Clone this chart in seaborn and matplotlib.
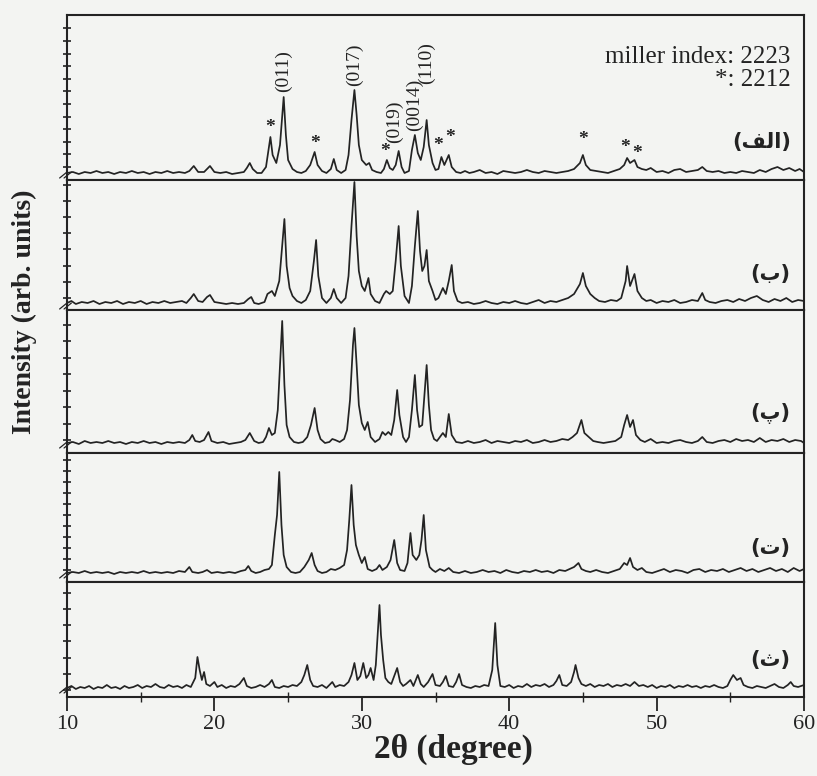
import matplotlib
matplotlib.use('Agg')
import matplotlib.pyplot as plt
import seaborn as sns
import pandas as pd
import numpy as np

alef = [(10.0, 2), (10.4, 3), (10.8, 1), (11.2, 3), (11.6, 2), (12.0, 4), (12.4, 2), (12.8, 3), (13.2, 1), (13.6, 3),
        (14.0, 2), (14.4, 4), (14.8, 2), (15.2, 3), (15.6, 1), (16.0, 3), (16.4, 2), (16.8, 4), (17.2, 2), (17.6, 3),
        (18.0, 2), (18.3, 4), (18.6, 9), (18.9, 3), (19.3, 3), (19.7, 9), (20.0, 3), (20.4, 2), (20.8, 3), (21.2, 1),
        (21.6, 2), (22.0, 3), (22.2, 7), (22.4, 12), (22.6, 6), (22.9, 2), (23.2, 2), (23.5, 8), (23.7, 28), (23.8, 38),
        (23.95, 20), (24.2, 12), (24.45, 30), (24.7, 78), (24.85, 40), (25.0, 15), (25.3, 6), (25.6, 3), (25.9, 2),
        (26.2, 4), (26.5, 10), (26.8, 23), (27.0, 10), (27.3, 4), (27.6, 2), (27.9, 6), (28.1, 16), (28.3, 5), (28.6, 2),
        (28.9, 5), (29.1, 20), (29.3, 55), (29.5, 85), (29.65, 60), (29.8, 30), (30.0, 15), (30.3, 10), (30.5, 12),
        (30.7, 5), (31.0, 3), (31.3, 2), (31.5, 6), (31.7, 15), (31.9, 7), (32.1, 5), (32.3, 10), (32.5, 24), (32.7, 8),
        (32.9, 2), (33.2, 4), (33.4, 25), (33.6, 40), (33.8, 22), (34.0, 15), (34.2, 28), (34.4, 55), (34.55, 30),
        (34.8, 12), (35.0, 5), (35.2, 6), (35.4, 18), (35.6, 10), (35.9, 20), (36.1, 8), (36.4, 3), (36.7, 2), (37.0, 4),
        (37.3, 2), (37.6, 3), (38.0, 5), (38.4, 2), (38.8, 3), (39.2, 1), (39.6, 4), (40.0, 3), (40.4, 2), (40.8, 3),
        (41.2, 5), (41.6, 3), (42.0, 2), (42.4, 4), (42.8, 3), (43.2, 2), (43.6, 3), (44.0, 4), (44.4, 6), (44.8, 12),
        (45.0, 20), (45.2, 10), (45.5, 5), (45.9, 4), (46.3, 3), (46.7, 2), (47.1, 4), (47.5, 6), (47.8, 10), (48.0, 17),
        (48.2, 12), (48.5, 15), (48.7, 8), (49.0, 6), (49.3, 5), (49.6, 7), (50.0, 3), (50.4, 4), (50.8, 2), (51.2, 5),
        (51.6, 6), (52.0, 3), (52.4, 4), (52.8, 5), (53.1, 8), (53.4, 4), (53.8, 3), (54.2, 4), (54.6, 2), (55.0, 3),
        (55.4, 2), (55.8, 4), (56.2, 3), (56.6, 2), (57.0, 5), (57.4, 3), (57.8, 6), (58.2, 8), (58.6, 5), (59.0, 7),
        (59.4, 4), (59.7, 6), (60.0, 3)]

be = [(10.0, 3), (10.3, 5), (10.6, 2), (11.0, 4), (11.4, 3), (11.8, 5), (12.2, 2), (12.6, 4), (13.0, 3), (13.4, 5),
      (13.8, 2), (14.2, 4), (14.6, 3), (15.0, 5), (15.4, 2), (15.8, 4), (16.2, 3), (16.6, 5), (17.0, 3), (17.4, 4),
      (17.8, 5), (18.1, 3), (18.4, 8), (18.6, 12), (18.9, 5), (19.2, 4), (19.5, 9), (19.7, 11), (20.0, 4), (20.4, 3),
      (20.8, 2), (21.2, 3), (21.6, 2), (22.0, 3), (22.3, 7), (22.5, 9), (22.7, 3), (23.0, 2), (23.4, 4), (23.6, 12),
      (23.9, 15), (24.1, 10), (24.4, 25), (24.6, 60), (24.75, 87), (24.9, 40), (25.1, 18), (25.3, 10), (25.6, 5),
      (25.9, 3), (26.2, 6), (26.5, 15), (26.75, 45), (26.9, 66), (27.05, 30), (27.3, 8), (27.6, 3), (27.9, 8), (28.1, 17),
      (28.3, 8), (28.6, 3), (28.9, 8), (29.1, 30), (29.3, 80), (29.5, 124), (29.65, 70), (29.8, 35), (30.0, 20),
      (30.2, 15), (30.45, 28), (30.6, 12), (30.9, 5), (31.2, 3), (31.5, 12), (31.65, 15), (31.9, 12), (32.1, 15),
      (32.3, 45), (32.5, 80), (32.65, 40), (32.9, 10), (33.2, 3), (33.4, 20), (33.6, 60), (33.8, 95), (33.95, 55),
      (34.1, 35), (34.25, 40), (34.4, 56), (34.55, 25), (34.8, 15), (35.0, 6), (35.2, 8), (35.5, 18), (35.7, 12),
      (35.9, 25), (36.1, 41), (36.25, 15), (36.5, 5), (36.8, 3), (37.2, 4), (37.6, 2), (38.0, 3), (38.4, 5), (38.8, 3),
      (39.2, 2), (39.6, 4), (40.0, 3), (40.4, 5), (40.8, 3), (41.2, 2), (41.6, 4), (42.0, 6), (42.4, 3), (42.8, 5),
      (43.2, 4), (43.6, 6), (44.0, 8), (44.4, 12), (44.8, 22), (45.0, 33), (45.2, 20), (45.5, 12), (45.8, 8), (46.1, 5),
      (46.5, 4), (46.9, 6), (47.3, 5), (47.6, 8), (47.9, 25), (48.0, 40), (48.2, 20), (48.5, 32), (48.7, 15), (49.0, 8),
      (49.3, 5), (49.6, 6), (50.0, 3), (50.4, 5), (50.8, 4), (51.2, 6), (51.6, 3), (52.0, 4), (52.4, 6), (52.8, 5),
      (53.1, 13), (53.3, 6), (53.6, 4), (54.0, 3), (54.4, 5), (54.8, 6), (55.2, 4), (55.6, 7), (56.0, 5), (56.4, 8),
      (56.8, 10), (57.2, 6), (57.6, 4), (58.0, 7), (58.4, 5), (58.8, 8), (59.2, 4), (59.6, 6), (60.0, 5)]

pe = [(10.0, 2), (10.4, 3), (10.8, 1), (11.2, 4), (11.6, 2), (12.0, 3), (12.4, 2), (12.8, 4), (13.2, 2), (13.6, 3),
      (14.0, 1), (14.4, 3), (14.8, 2), (15.2, 4), (15.6, 2), (16.0, 3), (16.4, 1), (16.8, 3), (17.2, 2), (17.6, 3),
      (18.0, 2), (18.3, 5), (18.5, 10), (18.7, 4), (19.0, 3), (19.3, 5), (19.6, 13), (19.8, 4), (20.2, 2), (20.6, 3),
      (21.0, 1), (21.4, 2), (21.8, 3), (22.1, 5), (22.4, 12), (22.7, 4), (23.0, 2), (23.3, 3), (23.5, 8), (23.7, 17),
      (23.9, 10), (24.1, 12), (24.3, 35), (24.5, 95), (24.6, 124), (24.75, 60), (24.9, 20), (25.1, 8), (25.4, 3),
      (25.7, 2), (26.0, 3), (26.3, 8), (26.55, 20), (26.8, 37), (27.0, 15), (27.2, 6), (27.5, 2), (27.8, 3), (28.0, 6),
      (28.2, 5), (28.5, 3), (28.8, 6), (29.0, 15), (29.2, 45), (29.4, 100), (29.5, 117), (29.65, 80), (29.8, 40),
      (30.0, 22), (30.2, 15), (30.4, 23), (30.6, 8), (30.9, 3), (31.2, 6), (31.4, 13), (31.6, 10), (31.8, 13), (32.0, 10),
      (32.2, 25), (32.4, 55), (32.55, 30), (32.8, 8), (33.0, 3), (33.2, 8), (33.4, 35), (33.6, 70), (33.75, 35),
      (33.9, 18), (34.1, 20), (34.25, 50), (34.4, 80), (34.55, 40), (34.7, 15), (34.9, 6), (35.1, 4), (35.3, 8),
      (35.5, 12), (35.7, 8), (35.9, 31), (36.1, 10), (36.4, 3), (36.8, 2), (37.2, 4), (37.6, 2), (38.0, 3), (38.4, 5),
      (38.8, 2), (39.2, 4), (39.6, 3), (40.0, 2), (40.4, 4), (40.8, 3), (41.2, 5), (41.6, 2), (42.0, 3), (42.4, 5),
      (42.8, 3), (43.2, 4), (43.6, 6), (44.0, 5), (44.3, 8), (44.6, 12), (44.9, 25), (45.1, 12), (45.4, 8), (45.7, 4),
      (46.0, 3), (46.4, 2), (46.8, 3), (47.2, 4), (47.6, 8), (47.8, 20), (48.0, 30), (48.2, 18), (48.4, 25), (48.6, 10),
      (48.9, 5), (49.2, 3), (49.6, 6), (50.0, 2), (50.4, 3), (50.8, 2), (51.2, 4), (51.6, 5), (52.0, 3), (52.4, 2),
      (52.8, 4), (53.1, 8), (53.4, 3), (53.8, 2), (54.2, 4), (54.6, 5), (55.0, 3), (55.4, 6), (55.8, 4), (56.2, 5),
      (56.6, 3), (57.0, 7), (57.4, 3), (57.8, 5), (58.2, 4), (58.6, 6), (59.0, 3), (59.4, 5), (59.8, 4), (60.0, 2)]

te = [(10.0, 2), (10.4, 3), (10.8, 2), (11.2, 4), (11.6, 2), (12.0, 3), (12.4, 2), (12.8, 3), (13.2, 1), (13.6, 3),
      (14.0, 2), (14.4, 3), (14.8, 2), (15.2, 4), (15.6, 2), (16.0, 3), (16.4, 2), (16.8, 3), (17.2, 2), (17.6, 4),
      (18.0, 3), (18.3, 8), (18.5, 3), (18.9, 2), (19.2, 3), (19.5, 5), (19.8, 2), (20.2, 3), (20.6, 2), (21.0, 3),
      (21.4, 2), (21.8, 4), (22.1, 5), (22.3, 9), (22.5, 4), (22.8, 2), (23.1, 3), (23.4, 5), (23.7, 6), (23.9, 10),
      (24.1, 40), (24.25, 60), (24.4, 103), (24.55, 50), (24.7, 20), (24.9, 8), (25.2, 3), (25.5, 2), (25.8, 3),
      (26.1, 8), (26.4, 15), (26.6, 22), (26.8, 10), (27.0, 4), (27.3, 2), (27.6, 3), (27.9, 6), (28.2, 5), (28.5, 7),
      (28.8, 10), (29.0, 25), (29.15, 55), (29.3, 90), (29.45, 50), (29.6, 30), (29.8, 20), (30.0, 12), (30.2, 18),
      (30.4, 6), (30.7, 4), (31.0, 6), (31.2, 10), (31.4, 5), (31.7, 8), (31.95, 15), (32.2, 35), (32.4, 12), (32.6, 5),
      (32.9, 4), (33.1, 12), (33.3, 42), (33.45, 20), (33.7, 15), (33.9, 20), (34.05, 35), (34.2, 60), (34.35, 25),
      (34.6, 8), (34.8, 5), (35.0, 3), (35.3, 6), (35.6, 4), (35.9, 7), (36.2, 3), (36.6, 2), (37.0, 4), (37.4, 2),
      (37.8, 3), (38.2, 5), (38.6, 3), (39.0, 4), (39.4, 2), (39.8, 5), (40.2, 3), (40.6, 2), (41.0, 4), (41.4, 3),
      (41.8, 5), (42.2, 3), (42.6, 4), (43.0, 2), (43.4, 5), (43.8, 4), (44.1, 6), (44.4, 8), (44.7, 12), (44.9, 6),
      (45.2, 4), (45.5, 3), (45.9, 5), (46.3, 3), (46.7, 2), (47.1, 4), (47.5, 6), (47.8, 12), (48.0, 10), (48.2, 17),
      (48.4, 8), (48.7, 5), (49.0, 7), (49.3, 3), (49.7, 2), (50.1, 4), (50.5, 6), (50.9, 3), (51.3, 5), (51.7, 4),
      (52.1, 2), (52.5, 5), (52.9, 6), (53.3, 3), (53.7, 5), (54.1, 4), (54.5, 6), (54.9, 3), (55.3, 5), (55.7, 7),
      (56.1, 4), (56.5, 6), (56.9, 3), (57.3, 5), (57.7, 7), (58.1, 4), (58.5, 6), (58.9, 3), (59.3, 7), (59.7, 4),
      (60.0, 6)]

se = [(10.0, 2), (10.3, 4), (10.6, 1), (10.9, 3), (11.2, 2), (11.5, 4), (11.8, 1), (12.1, 3), (12.4, 2), (12.7, 5),
      (13.0, 2), (13.3, 3), (13.6, 1), (13.9, 4), (14.2, 2), (14.5, 3), (14.8, 5), (15.1, 2), (15.4, 4), (15.7, 3),
      (16.0, 6), (16.3, 3), (16.6, 2), (16.9, 5), (17.2, 3), (17.5, 4), (17.8, 2), (18.1, 5), (18.4, 3), (18.7, 12),
      (18.85, 33), (19.0, 20), (19.15, 10), (19.3, 18), (19.45, 6), (19.7, 4), (20.0, 8), (20.2, 3), (20.5, 5),
      (20.8, 2), (21.1, 4), (21.4, 3), (21.7, 6), (22.0, 12), (22.2, 4), (22.5, 2), (22.8, 3), (23.1, 5), (23.4, 3),
      (23.7, 6), (23.9, 10), (24.1, 3), (24.4, 2), (24.7, 4), (25.0, 3), (25.3, 5), (25.6, 4), (25.9, 8), (26.1, 15),
      (26.3, 25), (26.5, 10), (26.7, 4), (27.0, 3), (27.3, 5), (27.6, 2), (27.8, 5), (28.0, 8), (28.2, 3), (28.5, 5),
      (28.8, 4), (29.1, 8), (29.3, 15), (29.5, 27), (29.7, 10), (29.9, 14), (30.1, 27), (30.3, 12), (30.45, 15),
      (30.6, 22), (30.8, 10), (30.95, 25), (31.1, 60), (31.2, 85), (31.3, 55), (31.45, 30), (31.6, 12), (31.8, 8),
      (32.0, 6), (32.2, 14), (32.4, 22), (32.6, 8), (32.8, 4), (33.0, 6), (33.3, 10), (33.5, 4), (33.8, 15), (34.0, 6),
      (34.2, 3), (34.5, 8), (34.8, 16), (35.0, 5), (35.3, 4), (35.5, 8), (35.7, 14), (35.9, 4), (36.2, 3), (36.4, 8),
      (36.6, 16), (36.8, 5), (37.1, 3), (37.4, 2), (37.7, 4), (38.0, 3), (38.3, 5), (38.6, 4), (38.85, 20), (39.05, 67),
      (39.2, 25), (39.4, 4), (39.7, 3), (40.0, 5), (40.3, 2), (40.6, 4), (40.9, 3), (41.2, 6), (41.5, 3), (41.8, 5),
      (42.1, 4), (42.4, 6), (42.7, 3), (43.0, 5), (43.2, 9), (43.4, 15), (43.6, 5), (43.9, 4), (44.2, 8), (44.4, 18),
      (44.5, 25), (44.7, 12), (44.9, 6), (45.2, 4), (45.5, 6), (45.8, 3), (46.1, 5), (46.4, 4), (46.7, 6), (47.0, 3),
      (47.3, 5), (47.6, 4), (47.9, 6), (48.2, 4), (48.5, 8), (48.8, 4), (49.1, 5), (49.4, 3), (49.7, 5), (50.0, 2),
      (50.3, 4), (50.6, 3), (50.9, 5), (51.2, 2), (51.5, 4), (51.8, 3), (52.1, 5), (52.4, 3), (52.7, 4), (53.0, 2),
      (53.3, 4), (53.6, 3), (53.9, 5), (54.2, 3), (54.5, 2), (54.8, 4), (55.0, 10), (55.2, 15), (55.45, 10), (55.7, 12),
      (55.9, 5), (56.2, 3), (56.5, 2), (56.8, 4), (57.1, 3), (57.4, 2), (57.7, 4), (58.0, 6), (58.3, 3), (58.6, 2),
      (58.9, 5), (59.1, 8), (59.3, 4), (59.6, 3), (60.0, 5)]

traces = [alef, be, pe, te, se]
panel_labels = ['(\ufed2\ufedf\u0627)', '(\u0628)', '(\u067e)', '(\u062a)', '(\u062b)']

miller_labels = ['(011)', '(017)', '(019)', '(0014)', '(110)']
miller_pos = [(24.7, 104), (29.5, 110), (32.2, 53), (33.6, 70), (34.4, 112)]
star_pos = [(23.8, 47), (26.8, 31), (31.6, 24), (35.2, 29), (36.0, 37), (45.0, 35), (47.85, 27), (48.65, 21)]

xticks = [10, 20, 30, 40, 50, 60]

sns.set_style('ticks')
plt.rcParams['font.family'] = ['Liberation Serif', 'DejaVu Serif']
plt.rcParams['axes.linewidth'] = 1.5

bg = '#f3f4f2'
ink = '#232323'

fig = plt.figure(figsize=(8.17, 7.76), dpi=100, facecolor=bg)
gs = fig.add_gridspec(5, 1, height_ratios=[165, 130, 143, 129, 115], hspace=0,
                      left=67/817, right=804/817, top=1-15/776, bottom=1-697/776)

ylims = [(-5, 160), (-4, 126), (-8, 135), (-7, 122), (-7, 108)]
ytick_steps = [(8, 12.6), (8, 16.2), (5, 16.5), (5, 11.0), (0, 16.2)]
label_y = [33, 32, 31, 27, 30]

for i, tr in enumerate(traces):
    ax = fig.add_subplot(gs[i])
    ax.set_facecolor(bg)
    df = pd.DataFrame(tr, columns=['two_theta', 'intensity'])
    sns.lineplot(data=df, x='two_theta', y='intensity', ax=ax, color=ink, lw=1.25,
                 estimator=None, sort=False)
    ax.set_xlim(10, 60)
    ax.set_ylim(*ylims[i])
    ax.set_xlabel('')
    ax.set_ylabel('')
    start, step = ytick_steps[i]
    ax.set_yticks(np.arange(start, ylims[i][1] - 2, step))
    ax.set_yticklabels([])
    ax.tick_params(axis='y', direction='inout', length=6, width=1.2, color=ink)
    for s in ax.spines.values():
        s.set_color(ink)
    ax.text(59.1, label_y[i], panel_labels[i], ha='right', va='center', fontsize=15,
            fontweight='bold', family=['DejaVu Sans'], color=ink)
    # axis break marks near the baseline
    tr_y = ax.get_yaxis_transform()
    for dx in [-0.006, 0.0]:
        ax.plot([dx - 0.004, dx + 0.006], [-3, 3], transform=tr_y, color=ink, lw=0.9, clip_on=False)
    if i < 4:
        ax.set_xticks(xticks)
        ax.set_xticklabels([])
        ax.tick_params(axis='x', length=0)
    else:
        ax.set_xticks(xticks)
        ax.set_xticks([15, 25, 35, 45, 55], minor=True)
        ax.tick_params(axis='x', which='major', direction='out', length=10, width=1.3,
                       labelsize=16, pad=3, color=ink, labelcolor=ink)
        ax.tick_params(axis='x', which='minor', direction='inout', length=7, width=1.0, color=ink)
    if i == 0:
        for lab, (x, y) in zip(miller_labels, miller_pos):
            ax.text(x, y, lab, rotation=90, ha='center', va='center', fontsize=14, color=ink)
        for x, y in star_pos:
            ax.text(x, y, '*', ha='center', va='center', fontsize=14, fontweight='bold', color=ink)
        ax.text(59.1, 118, 'miller index: 2223', ha='right', va='center', fontsize=18, color=ink)
        ax.text(59.1, 95, '*: 2212', ha='right', va='center', fontsize=18, color=ink)

fig.text(24/817, 1-312/776, 'Intensity (arb. units)', rotation=90, ha='center', va='center',
         fontsize=20, fontweight='bold', color=ink)
fig.text(453/817, 1-749/776, '2\u03b8 (degree)', ha='center', va='center',
         fontsize=24, fontweight='bold', color=ink)

fig.savefig('out.png', dpi=100, facecolor=bg)
